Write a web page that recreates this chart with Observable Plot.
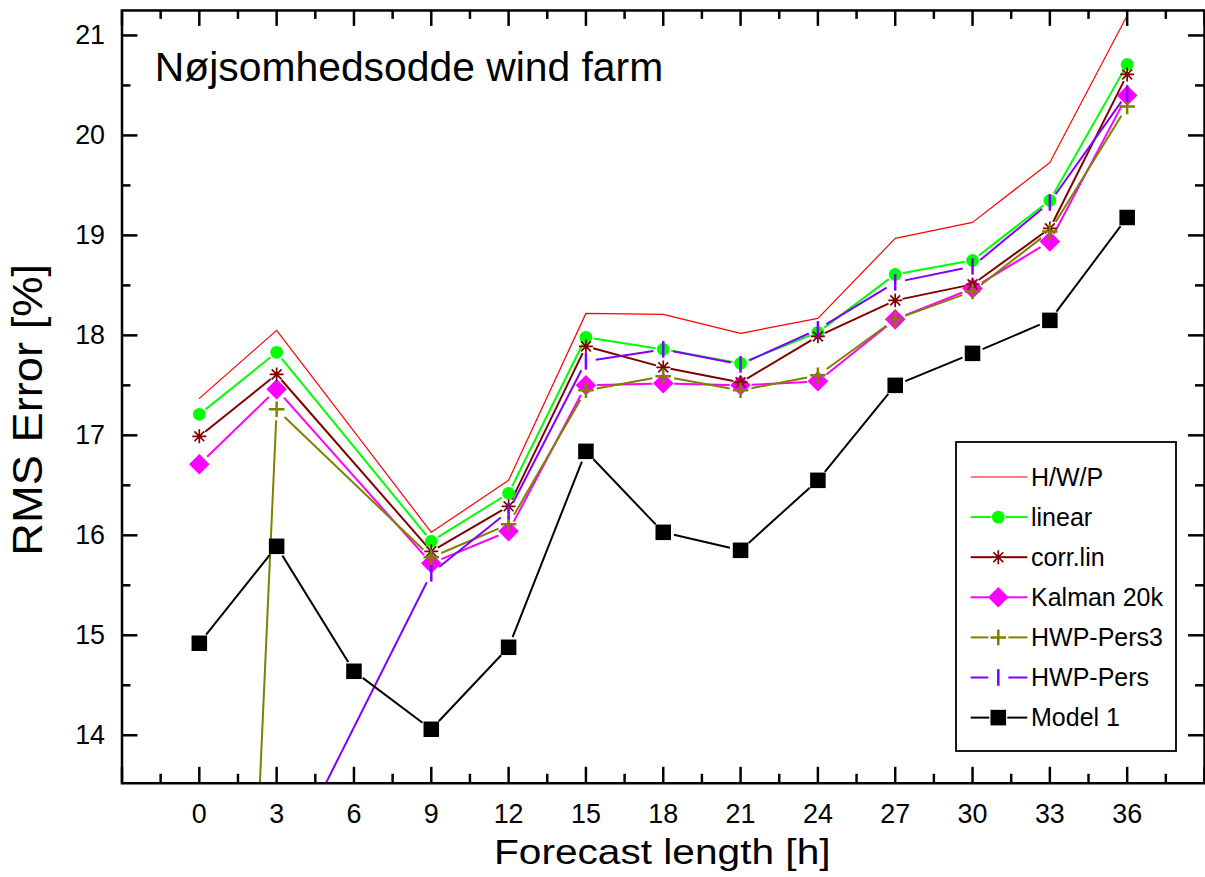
<!DOCTYPE html>
<html>
<head>
<meta charset="utf-8">
<script src="https://cdn.jsdelivr.net/npm/d3@7"></script>
<script src="https://cdn.jsdelivr.net/npm/@observablehq/plot@0.6"></script>
<style>
  html, body { margin: 0; padding: 0; overflow: hidden; background: #fff; }
  #wrap { position: relative; width: 1205px; height: 877px; overflow: hidden; }
  #legend { position: absolute; left: 955px; top: 441px; }
</style>
</head>
<body>
<div id="wrap"></div>
<script>
// ---- data ----
const title = "Nøjsomhedsodde wind farm";
const xLabel = "Forecast length [h]";
const yLabel = "RMS Error [%]";

const nwpHours = [0, 3, 9, 12, 15, 18, 21, 24, 27, 30, 33, 36];
const model1Hours = [0, 3, 6, 9, 12, 15, 18, 21, 24, 27, 30, 33, 36];

const hwp      = [17.37, 18.05, 16.03, 16.55, 18.22, 18.21, 18.02, 18.17, 18.97, 19.13, 19.73, 21.20];
const linear   = [17.21, 17.83, 15.94, 16.42, 17.98, 17.86, 17.72, 18.03, 18.61, 18.75, 19.35, 20.71];
const corrLin  = [16.99, 17.61, 15.84, 16.29, 17.89, 17.68, 17.53, 17.99, 18.35, 18.51, 19.07, 20.61];
const kalman   = [16.71, 17.46, 15.72, 16.04, 17.50, 17.52, 17.50, 17.54, 18.16, 18.47, 18.94, 20.40];
const hwpPers3 = [0.00, 17.26, 15.78, 16.11, 17.45, 17.59, 17.45, 17.60, 18.16, 18.44, 19.04, 20.29];
const hwpPers  = [0.00, 12.54, 15.62, 16.24, 17.74, 17.86, 17.71, 18.06, 18.53, 18.69, 19.33, 20.42];
const model1   = [14.92, 15.89, 14.64, 14.06, 14.88, 16.84, 16.03, 15.85, 16.55, 17.50, 17.82, 18.15, 19.18];

const seriesNames  = ["H/W/P", "linear", "corr.lin", "Kalman 20k", "HWP-Pers3", "HWP-Pers", "Model 1"];
const seriesColors = ["#ff0000", "#00ff00", "#800000", "#ff00ff", "#808000", "#8000ff", "#000000"];

const xTickLabels = [0, 3, 6, 9, 12, 15, 18, 21, 24, 27, 30, 33, 36];
const yTickLabels = [14, 15, 16, 17, 18, 19, 20, 21];

// ---- helpers ----
function sym(kind) {
  return {
    draw(ctx, size) {
      const r = Math.sqrt(size / Math.PI);
      const a = r * Math.SQRT1_2;
      switch (kind) {
        case "circle": ctx.moveTo(r, 0); ctx.arc(0, 0, r, 0, 2 * Math.PI); break;
        case "diamond": ctx.moveTo(0, -r); ctx.lineTo(r, 0); ctx.lineTo(0, r); ctx.lineTo(-r, 0); ctx.closePath(); break;
        case "square": ctx.rect(-r, -r, 2 * r, 2 * r); break;
        case "plus": ctx.moveTo(-r, 0); ctx.lineTo(r, 0); ctx.moveTo(0, -r); ctx.lineTo(0, r); break;
        case "vbar": ctx.moveTo(0, -r); ctx.lineTo(0, r); break;
        case "asterisk":
          ctx.moveTo(-r, 0); ctx.lineTo(r, 0); ctx.moveTo(0, -r); ctx.lineTo(0, r);
          ctx.moveTo(-a, -a); ctx.lineTo(a, a); ctx.moveTo(-a, a); ctx.lineTo(a, -a); break;
      }
    }
  };
}
const rows = (xs, ys) => xs.map((x, i) => ({x, y: ys[i]}));
const segs = (r) => r.slice(1).map((d, i) => ({x1: r[i].x, y1: r[i].y, x2: d.x, y2: d.y}));

const series = [
  {name: seriesNames[0], data: rows(nwpHours, hwp),      color: seriesColors[0], kind: null,       r: 0,    filled: false, gap: 0,  lw: 1.2},
  {name: seriesNames[1], data: rows(nwpHours, linear),   color: seriesColors[1], kind: "circle",   r: 6.4,  filled: true,  gap: 8,  lw: 2},
  {name: seriesNames[2], data: rows(nwpHours, corrLin),  color: seriesColors[2], kind: "asterisk", r: 7,    filled: false, gap: 7.5, lw: 2},
  {name: seriesNames[3], data: rows(nwpHours, kalman),   color: seriesColors[3], kind: "diamond",  r: 10.3, filled: true,  gap: 11, lw: 2},
  {name: seriesNames[4], data: rows(nwpHours, hwpPers3), color: seriesColors[4], kind: "plus",     r: 7.8,  filled: false, gap: 11, lw: 2},
  {name: seriesNames[5], data: rows(nwpHours, hwpPers),  color: seriesColors[5], kind: "vbar",     r: 8.3,  filled: false, gap: 10, lw: 2},
  {name: seriesNames[6], data: rows(model1Hours, model1),color: seriesColors[6], kind: "square",   r: 7.8,  filled: true,  gap: 11, lw: 2}
];

const W = 1210, H = 877, mL = 122, mR = 1, mT = 10, mB = 91;
const frameW = W - mL - mR, frameH = H - mT - mB;
const xMajor = d3.range(-3, 39.01, 3);
const xMinor = d3.range(-1.5, 39, 3);
const yMajor = yTickLabels;
const yMinor = d3.range(14.5, 21, 1);
const majorLen = 16, minorLen = 9, tickW = 2.5;

const marks = [];
// lines
for (const s of series) {
  if (s.kind === null) {
    marks.push(Plot.line(s.data, {x: "x", y: "y", stroke: s.color, strokeWidth: s.lw, clip: true}));
  } else {
    marks.push(Plot.arrow(segs(s.data), {
      x1: "x1", y1: "y1", x2: "x2", y2: "y2",
      insetStart: s.gap, insetEnd: s.gap, headLength: 0,
      stroke: s.color, strokeWidth: s.lw, strokeLinecap: "butt", clip: true
    }));
  }
}
// markers
const markerOrder = [3, 1, 2, 4, 5, 6];
for (const i of markerOrder) {
  const s = series[i];
  marks.push(Plot.dot(s.data, {
    x: "x", y: "y", r: s.r, symbol: sym(s.kind),
    fill: s.filled ? s.color : "none",
    stroke: s.filled ? "none" : s.color,
    strokeWidth: s.filled ? 0 : (s.kind === "asterisk" ? 1.7 : 2.5),
    clip: true
  }));
}
// frame & inward ticks
marks.push(
  Plot.frame({stroke: "black", strokeWidth: 2.5}),
  Plot.tickX(xMajor, {x: d => d, insetTop: frameH - majorLen, stroke: "black", strokeWidth: tickW}),
  Plot.tickX(xMinor, {x: d => d, insetTop: frameH - minorLen, stroke: "black", strokeWidth: tickW}),
  Plot.tickX(xMajor, {x: d => d, insetBottom: frameH - majorLen, stroke: "black", strokeWidth: tickW}),
  Plot.tickX(xMinor, {x: d => d, insetBottom: frameH - minorLen, stroke: "black", strokeWidth: tickW}),
  Plot.tickY(yMajor, {y: d => d, insetRight: frameW - majorLen, stroke: "black", strokeWidth: tickW}),
  Plot.tickY(yMinor, {y: d => d, insetRight: frameW - minorLen, stroke: "black", strokeWidth: tickW}),
  Plot.tickY(yMajor, {y: d => d, insetLeft: frameW - majorLen, stroke: "black", strokeWidth: tickW}),
  Plot.tickY(yMinor, {y: d => d, insetLeft: frameW - minorLen, stroke: "black", strokeWidth: tickW}),
  Plot.axisX(xTickLabels, {tickSize: 0, tickPadding: 21, fontSize: 27, label: null, fill: "black", tickFormat: d => String(d)}),
  Plot.axisY(yTickLabels, {tickSize: 0, tickPadding: 17, fontSize: 27, label: null, fill: "black", tickFormat: d => String(d)}),
  Plot.text([xLabel], {text: d => d, frameAnchor: "bottom", textAnchor: "middle", lineAnchor: "middle", dx: -1, dy: 70, fontSize: 36, fill: "black"}),
  Plot.text([yLabel], {text: d => d, frameAnchor: "left", textAnchor: "middle", rotate: -90, lineAnchor: "middle", dx: -94, dy: 13, fontSize: 42, fill: "black"}),
  Plot.text([title], {text: d => d, frameAnchor: "top-left", textAnchor: "start", lineAnchor: "top", dx: 33, dy: 41.7, fontSize: 41, fill: "black"})
);

const chart = Plot.plot({
  width: W, height: H,
  marginLeft: mL, marginRight: mR, marginTop: mT, marginBottom: mB,
  x: {domain: [-3, 39], label: null},
  y: {domain: [13.52, 21.25], label: null},
  style: {fontFamily: "'Liberation Sans', Arial, sans-serif", background: "white", color: "black", overflow: "visible"},
  marks
});
// stretch axis titles horizontally like the original rendering
for (const t of chart.querySelectorAll("text")) {
  if (t.textContent === xLabel) { t.setAttribute("textLength", 338); t.setAttribute("lengthAdjust", "spacingAndGlyphs"); }
  if (t.textContent === yLabel) { t.setAttribute("textLength", 293); t.setAttribute("lengthAdjust", "spacingAndGlyphs"); }
}
const wrap = document.getElementById("wrap");
wrap.appendChild(chart);

// ---- legend (inside plot area) ----
const LW = 222, LH = 311;
const lg = d3.select(wrap).append("svg").attr("id", "legend").attr("width", LW).attr("height", LH)
  .style("font-family", "'Liberation Sans', Arial, sans-serif");
lg.append("rect").attr("x", 1).attr("y", 1).attr("width", LW - 2).attr("height", LH - 2)
  .attr("fill", "white").attr("stroke", "black").attr("stroke-width", 1.8);
const lx0 = 15.7, lx1 = 72.3, lmx = 43.3;
series.forEach((s, i) => {
  const cy = 36 + i * 40.1;
  const g = lg.append("g");
  if (s.kind === null) {
    g.append("line").attr("x1", lx0).attr("x2", lx1).attr("y1", cy).attr("y2", cy)
      .attr("stroke", s.color).attr("stroke-width", 1.2);
  } else {
    const gap = s.kind === "circle" ? 7.5 : s.kind === "asterisk" ? 5 : s.kind === "vbar" ? 10 : s.kind === "plus" ? 10 : 9;
    g.append("line").attr("x1", lx0).attr("x2", lmx - gap).attr("y1", cy).attr("y2", cy)
      .attr("stroke", s.color).attr("stroke-width", 2);
    g.append("line").attr("x1", lmx + gap).attr("x2", lx1).attr("y1", cy).attr("y2", cy)
      .attr("stroke", s.color).attr("stroke-width", 2);
    const p = d3.path();
    sym(s.kind).draw(p, s.r * s.r * Math.PI);
    g.append("path").attr("d", p.toString()).attr("transform", `translate(${lmx},${cy})`)
      .attr("fill", s.filled ? s.color : "none")
      .attr("stroke", s.filled ? "none" : s.color)
      .attr("stroke-width", s.filled ? 0 : (s.kind === "asterisk" ? 1.7 : 2.5));
  }
  g.append("text").attr("x", 76).attr("y", cy).attr("dy", "0.35em")
    .attr("font-size", 25).attr("fill", "black").text(s.name);
});
</script>
</body>
</html>
